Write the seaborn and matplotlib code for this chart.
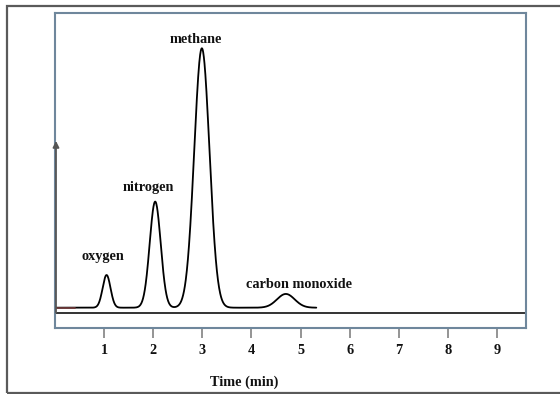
import numpy as np
import pandas as pd
import matplotlib
matplotlib.use("Agg")
import matplotlib.pyplot as plt
import seaborn as sns
from matplotlib.patches import Rectangle

# Peak data
compounds = ["oxygen", "nitrogen", "methane", "carbon monoxide"]
retention_times = [1.05, 2.04, 2.99, 4.70]   # min
peak_heights = [12.6, 40.9, 100.0, 5.3]      # relative response
peak_sigmas = [0.08, 0.112, 0.155, 0.18]     # min
label_times = [0.97, 1.91, 2.87, 4.97]
label_heights = [19.7, 46.4, 103.5, 8.8]
tick_values = [1, 2, 3, 4, 5, 6, 7, 8, 9]
run_end = 5.32

sns.set_theme(style="white")
plt.rcParams["font.family"] = ["Liberation Serif", "DejaVu Serif"]

t = np.linspace(0, run_end, 1200)
signal = np.zeros_like(t)
for c, h, s in zip(retention_times, peak_heights, peak_sigmas):
    signal += h * np.exp(-0.5 * ((t - c) / s) ** 2)
df = pd.DataFrame({"Time (min)": t, "Response": signal})

fig = plt.figure(figsize=(5.6, 3.94), dpi=100)
ax = fig.add_axes([55 / 560, 1 - 328 / 394, 471 / 560, 315 / 394])

sns.lineplot(data=df, x="Time (min)", y="Response", ax=ax, color="black",
             linewidth=1.3)
sns.lineplot(data=df[df["Time (min)"] < 0.4], x="Time (min)", y="Response",
             ax=ax, color="#6e3a3a", linewidth=1.3)

ax.set_xlim(0, 9.59)
ax.set_ylim(-7.83, 113.6)

# baseline axis line
ax.axhline(-1.93, color="#333333", linewidth=1.4, zorder=1)
# vertical arrow on the left
ax.annotate("", xy=(0.02, 64.3), xytext=(0.02, -1.93),
            arrowprops=dict(arrowstyle="-|>", color="#555555", lw=1.3,
                            mutation_scale=9, shrinkA=0, shrinkB=0),
            annotation_clip=False, zorder=5)

for name, lx, ly in zip(compounds, label_times, label_heights):
    ax.text(lx, ly, name, ha="center", va="center", fontsize=10.3,
            fontweight="bold", color="#111111")

ax.set_xticks(tick_values)
ax.set_xticklabels([str(v) for v in tick_values], fontsize=10.3, fontweight="bold")
ax.set_yticks([])
ax.tick_params(axis="x", bottom=True, length=7.5, width=1.1, color="#777777",
               pad=4, labelcolor="#111111")
ax.set_ylabel("")
ax.set_xlabel("Time (min)", fontsize=10.3, fontweight="bold", color="#111111")
ax.xaxis.set_label_coords(0.401, -0.152)

for sp in ax.spines.values():
    sp.set_visible(True)
    sp.set_color("#6f879c")
    sp.set_linewidth(1.5)

# outer border (open on the right)
fig.patches.append(Rectangle((7 / 560, 1 - 393 / 394), 1.1, 387 / 394,
                             transform=fig.transFigure, fill=False,
                             edgecolor="#5a5a5a", linewidth=1.6, clip_on=False))

fig.savefig("out.png", dpi=100)
